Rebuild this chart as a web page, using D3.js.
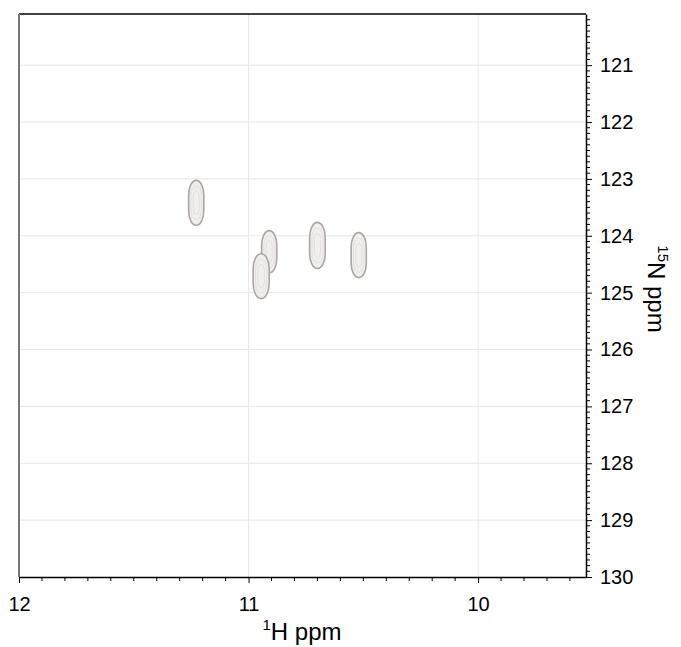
<!DOCTYPE html>
<html>
<head>
<meta charset="utf-8">
<script src="https://cdn.jsdelivr.net/npm/d3@7"></script>
<style>
  body { margin: 0; background: #fff; }
  text { font-family: "Liberation Sans", Arial, sans-serif; }
</style>
</head>
<body>
<script>
// peak positions (1H ppm, 15N ppm)
const peakH = [11.228, 10.91, 10.945, 10.70, 10.52];
const peakN = [123.42, 124.28, 124.71, 124.17, 124.34];
const peakWidthH = [0.066, 0.066, 0.07, 0.068, 0.066];
const peakWidthN = [0.79, 0.74, 0.79, 0.81, 0.79];

const xTicks = [12, 11, 10];
const yTicks = [121, 122, 123, 124, 125, 126, 127, 128, 129, 130];

const width = 681, height = 647;
const margin = {left: 19, right: 95, top: 14, bottom: 70};

const svg = d3.select("body").append("svg")
  .attr("width", width)
  .attr("height", height);

const x = d3.scaleLinear().domain([12, 9.53]).range([margin.left, width - margin.right]);
const y = d3.scaleLinear().domain([120.1, 130]).range([margin.top, height - margin.bottom]);

// grid
svg.append("g").selectAll("line.gx")
  .data(xTicks.filter(d => d < 12))
  .enter().append("line")
  .attr("x1", d => x(d)).attr("x2", d => x(d))
  .attr("y1", y.range()[0]).attr("y2", y.range()[1])
  .attr("stroke", "#e6e6e6");

svg.append("g").selectAll("line.gy")
  .data(yTicks.filter(d => d < 130))
  .enter().append("line")
  .attr("x1", x.range()[0]).attr("x2", x.range()[1])
  .attr("y1", d => y(d)).attr("y2", d => y(d))
  .attr("stroke", "#e6e6e6");

// frame top / left
svg.append("line")
  .attr("x1", x.range()[0]).attr("x2", x.range()[1])
  .attr("y1", y.range()[0]).attr("y2", y.range()[0])
  .attr("stroke", "#000").attr("stroke-width", 1.5);
svg.append("line")
  .attr("x1", x.range()[0]).attr("x2", x.range()[0])
  .attr("y1", y.range()[0]).attr("y2", y.range()[1])
  .attr("stroke", "#777").attr("stroke-width", 2);

// peaks drawn as nested contours (rounded, capsule like)
const peaks = peakH.map((h, i) => ({h: h, n: peakN[i], wh: peakWidthH[i], wn: peakWidthN[i]}));
const levels = [1, 0.7, 0.4];

peaks.forEach(p => {
  const w = Math.abs(x(p.h + p.wh / 2) - x(p.h - p.wh / 2));
  const hgt = Math.abs(y(p.n + p.wn / 2) - y(p.n - p.wn / 2));
  const g = svg.append("g");
  g.selectAll("rect")
    .data(levels)
    .enter().append("rect")
    .attr("x", l => x(p.h) - w * l / 2)
    .attr("y", l => y(p.n) - hgt * (0.2 + 0.8 * l) / 2)
    .attr("width", l => w * l)
    .attr("height", l => hgt * (0.2 + 0.8 * l))
    .attr("rx", l => w * l / 2)
    .attr("ry", l => w * l * 0.95)
    .attr("fill", (l, i) => i == 0 ? "#f1efee" : "none")
    .attr("stroke", (l, i) => i == 0 ? "#aaa6a5" : "#e2dfde")
    .attr("stroke-width", (l, i) => i == 0 ? 1.6 : 1);
});

// axes
const xAxis = d3.axisBottom(x)
  .tickValues(xTicks)
  .tickFormat(d3.format("d"))
  .tickSize(6)
  .tickSizeOuter(0);
const gx = svg.append("g")
  .attr("transform", "translate(0," + y.range()[1] + ")")
  .call(xAxis);
gx.select(".domain").attr("stroke-width", 1.5);
gx.selectAll("text").attr("font-size", 20).attr("dy", "1.25em").attr("fill", "#000");

const xMinor = d3.range(12, 9.5, -0.1).filter(d => Math.abs(d - Math.round(d)) > 0.01);
gx.selectAll("line.minor")
  .data(xMinor)
  .enter().append("line")
  .attr("x1", d => x(d)).attr("x2", d => x(d))
  .attr("y1", 0).attr("y2", 4)
  .attr("stroke", "#000");

const yAxis = d3.axisRight(y)
  .tickValues(yTicks)
  .tickFormat(d3.format("d"))
  .tickSize(6)
  .tickSizeOuter(0);
const gy = svg.append("g")
  .attr("transform", "translate(" + x.range()[1] + ",0)")
  .call(yAxis);
gy.select(".domain").attr("stroke-width", 1.5);
gy.selectAll("text").attr("font-size", 20).attr("x", 14).attr("fill", "#000");

const yMinor = d3.range(120.2, 130, 0.1).filter(d => Math.abs(d - Math.round(d)) > 0.01);
gy.selectAll("line.minor")
  .data(yMinor)
  .enter().append("line")
  .attr("x1", 0).attr("x2", 4)
  .attr("y1", d => y(d)).attr("y2", d => y(d))
  .attr("stroke", "#000");

// axis titles
const xt = svg.append("text")
  .attr("x", 302).attr("y", 640)
  .attr("text-anchor", "middle")
  .attr("font-size", 24);
xt.append("tspan").attr("font-size", 15).attr("dy", -10).text("1");
xt.append("tspan").attr("dy", 10).text("H ppm");

const yt = svg.append("text")
  .attr("transform", "translate(648,289) rotate(90)")
  .attr("text-anchor", "middle")
  .attr("font-size", 24);
yt.append("tspan").attr("font-size", 15).attr("dy", -10).text("15");
yt.append("tspan").attr("dy", 10).text("N ppm");
</script>
</body>
</html>
